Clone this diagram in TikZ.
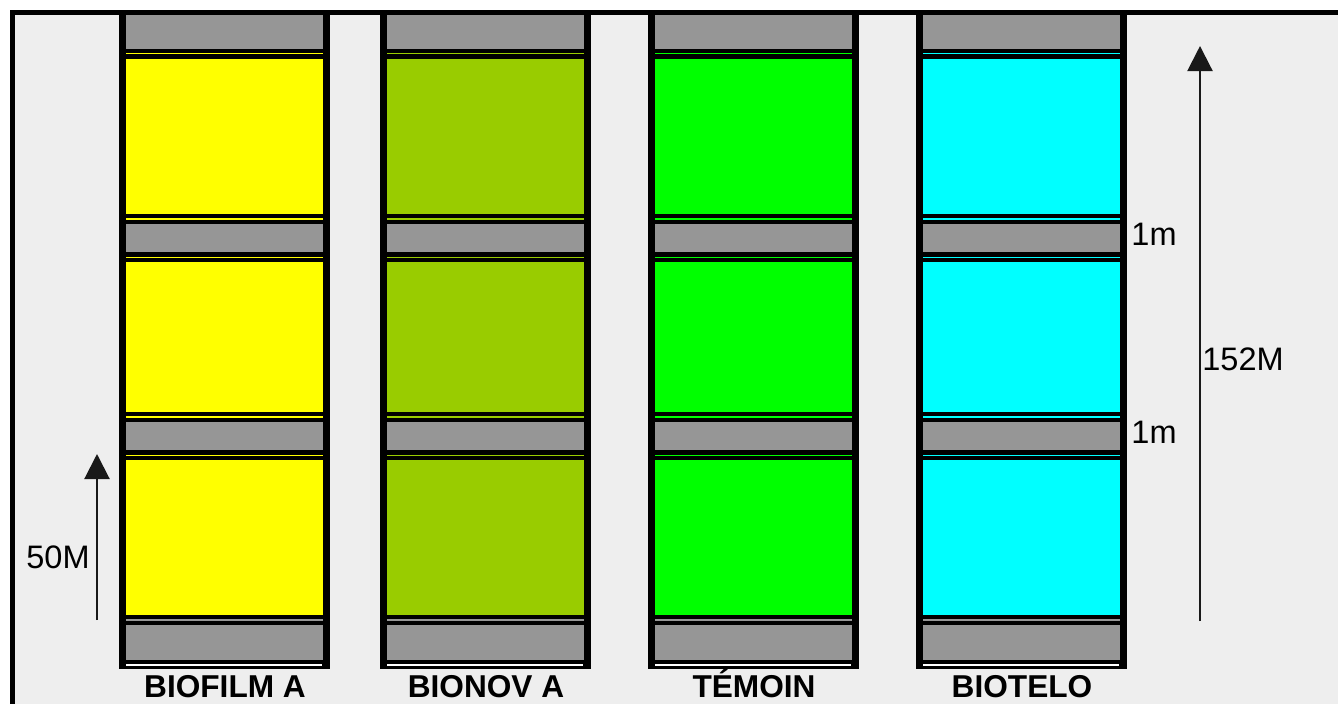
\documentclass[tikz,border=0pt]{standalone}
\usepackage{fontspec}
\setmainfont{Liberation Sans}
\usetikzlibrary{arrows.meta}
\definecolor{olivebed}{HTML}{99CC00}
\definecolor{greenbed}{HTML}{00FF00}
\definecolor{cyanbed}{HTML}{00FFFF}
\definecolor{yellowbed}{HTML}{FFFF00}
\definecolor{graybed}{HTML}{969696}
\definecolor{fieldgray}{HTML}{EEEEEE}
\begin{document}
\begin{tikzpicture}[x=0.02cm, y=-0.02cm,
    lbl/.style={font=\fontsize{18.5}{22}\selectfont},
    bedname/.style={font=\fontsize{18}{22}\selectfont\bfseries, anchor=base, inner sep=0pt},
    arr/.style={line width=1.2pt, black!90, -{Triangle[width=0.5cm,length=0.5cm]}}]
    \useasboundingbox (0,0) rectangle (1338,704);
    % field and frame
    \fill[white] (0,0) rectangle (1338,704);
    \fill[fieldgray] (15,15) rectangle (1338,704);
    \fill[black] (10,10) rectangle (1338,15);
    \fill[black] (10,10) rectangle (15,704);
    % the four beds
    \foreach \x/\c/\n/\t in {119/yellowbed/biofilm/BIOFILM A, 380/olivebed/bionov/BIONOV A,
                             648/greenbed/temoin/TÉMOIN, 916/cyanbed/biotelo/BIOTELO}{
      \fill[black] (\x,10) rectangle (\x+211,669);
      \fill[graybed] (\x+7,15) rectangle (\x+204,49);
      \fill[\c] (\x+7,52.7) rectangle (\x+204,54);
      \fill[\c] (\x+7,59) rectangle (\x+204,214);
      \fill[\c] (\x+7,218.3) rectangle (\x+204,219.6);
      \fill[graybed] (\x+7,224) rectangle (\x+204,252);
      \fill[\c] (\x+7,256.5) rectangle (\x+204,257.8);
      \fill[\c] (\x+7,262) rectangle (\x+204,412);
      \fill[\c] (\x+7,416.3) rectangle (\x+204,417.6);
      \fill[graybed] (\x+7,422) rectangle (\x+204,450);
      \fill[\c] (\x+7,454.5) rectangle (\x+204,455.8);
      \fill[\c] (\x+7,460) rectangle (\x+204,615);
      \fill[graybed] (\x+7,619.3) rectangle (\x+204,620.8);
      \fill[graybed] (\x+7,625) rectangle (\x+204,660);
      \fill[white] (\x+7,664.3) rectangle (\x+203,666);
      \node[bedname] (\n) at (\x+106,697) {\t};
    }
    % lengths
    \coordinate (s50) at (97,620);
    \coordinate (e50) at (97,454);
    \draw[arr] (s50) -- (e50);
    \node[lbl] (l50) at (58,557) {50M};
    \coordinate (s152) at (1200,621);
    \coordinate (e152) at (1200,46);
    \draw[arr] (s152) -- (e152);
    \node[lbl] (l152) at (1243,359) {152M};
    \node[lbl] (gap1) at (1154,234) {1m};
    \node[lbl] (gap2) at (1154,432) {1m};
\end{tikzpicture}
\end{document}
